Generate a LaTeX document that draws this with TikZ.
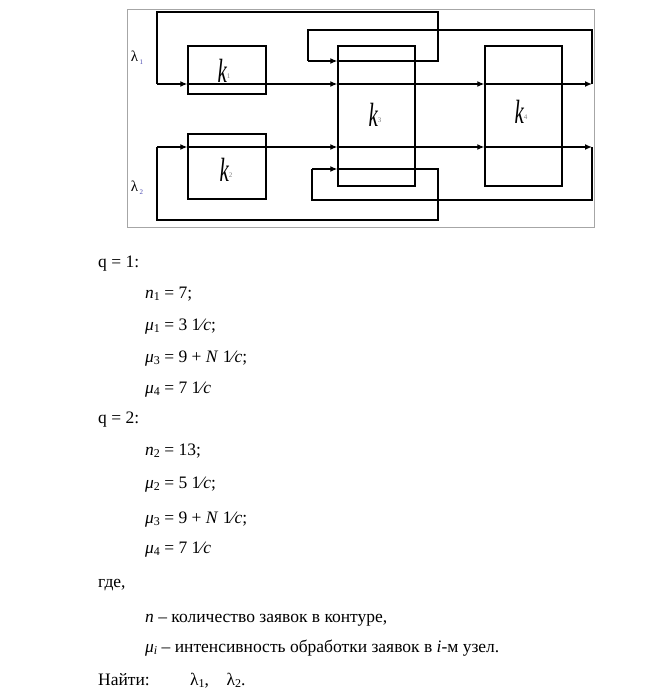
\documentclass[tikz,border=0pt]{standalone}
\usepackage{fontspec}
\setmainfont{Liberation Serif}
\newfontfamily\tnr{Liberation Serif}
\usetikzlibrary{arrows.meta}
\newcommand\sbx[1]{\raisebox{-0.35ex}{\fontsize{12}{12}\selectfont #1}}
\newcommand\klab[1]{\scalebox{1}[1.6]{\fontsize{21}{21}\selectfont\tnr\itshape k}\raisebox{1ex}{\fontsize{7}{7}\selectfont\color{gray}#1}}
\newcommand\llab[1]{{\fontsize{15}{15}\selectfont\tnr λ}\,\raisebox{-0.6ex}{\fontsize{7}{7}\selectfont\color{blue!40!gray}#1}}
\begin{document}
\begin{tikzpicture}[x=1pt,y=-1pt,
  box/.style={draw=black,line width=1.4pt,rectangle,inner sep=0pt},
  ln/.style={draw=black,line width=1.3pt},
  arr/.style={ln,-{Latex[length=7pt,width=6pt]}},
  frm/.style={draw=black!35,line width=1pt},
  txt/.style={anchor=base west,inner sep=0pt,font=\tnr\fontsize{17.5}{21}\selectfont}]
\useasboundingbox (0,0) rectangle (666,694);
\fill[white] (0,0) rectangle (666,694);
% frame
\draw[frm] (127,9) rectangle (594,227);
% boxes
\node[box,minimum width=78pt,minimum height=48pt] (k1) at (227,70) {};
\node[box,minimum width=78pt,minimum height=65pt] (k2) at (227,166.5) {};
\node[box,minimum width=77pt,minimum height=140pt] (k3) at (376.5,116) {};
\node[box,minimum width=77pt,minimum height=140pt] (k4) at (523.5,116) {};
\node[inner sep=0pt] (lk1) at (224,71) {\klab{1}};
\node[inner sep=0pt] (lk2) at (226,170) {\klab{2}};
\node[inner sep=0pt] (lk3) at (375,115) {\klab{3}};
\node[inner sep=0pt] (lk4) at (521,112) {\klab{4}};
\node[inner sep=0pt] (l1) at (137,58) {\llab{1}};
\node[inner sep=0pt] (l2) at (137,188) {\llab{2}};
% loop 1 coordinates
\coordinate (a1) at (157,84);
\coordinate (a2) at (157,12);
\coordinate (a3) at (438,12);
\coordinate (a4) at (438,61);
\coordinate (a5) at (592,84);
\coordinate (a6) at (592,30);
\coordinate (a7) at (308,30);
\coordinate (a8) at (308,61);
% loop 1
\draw[arr] (a1) -- (k1.west |- a1);
\draw[arr] (k1.west |- a1) -- (k3.west |- a1);
\draw[arr] (k3.west |- a1) -- (k4.west |- a1);
\draw[arr] (k4.west |- a1) -- (a5);
\draw[ln] (a5) -- (a6) -- (a7) -- (a8);
\draw[arr] (a8) -- (k3.west |- a8);
\draw[ln] (k3.west |- a8) -- (a4) -- (a3) -- (a2) -- (a1);
% loop 2 coordinates
\coordinate (b1) at (157,147);
\coordinate (b2) at (157,220);
\coordinate (b3) at (438,220);
\coordinate (b4) at (438,169);
\coordinate (b5) at (592,147);
\coordinate (b6) at (592,200);
\coordinate (b7) at (312,200);
\coordinate (b8) at (312,169);
% loop 2
\draw[arr] (b1) -- (k2.west |- b1);
\draw[arr] (k2.west |- b1) -- (k3.west |- b1);
\draw[arr] (k3.west |- b1) -- (k4.west |- b1);
\draw[arr] (k4.west |- b1) -- (b5);
\draw[ln] (b5) -- (b6) -- (b7) -- (b8);
\draw[arr] (b8) -- (k3.west |- b8);
\draw[ln] (k3.west |- b8) -- (b4) -- (b3) -- (b2) -- (b1);
% text
\node[txt] (t1) at (98,267) {q = 1:};
\node[txt] (t2) at (145,298) {\textit{n}\sbx{1} = 7;};
\node[txt] (t3) at (145,330) {\textit{μ}\sbx{1} = 3 1⁄\textit{c};};
\node[txt] (t4) at (145,362) {\textit{μ}\sbx{3} = 9 + \textit{N} 1⁄\textit{c};};
\node[txt] (t5) at (145,393) {\textit{μ}\sbx{4} = 7 1⁄\textit{c}};
\node[txt] (t6) at (98,423) {q = 2:};
\node[txt] (t7) at (145,455) {\textit{n}\sbx{2} = 13;};
\node[txt] (t8) at (145,488) {\textit{μ}\sbx{2} = 5 1⁄\textit{c};};
\node[txt] (t9) at (145,523) {\textit{μ}\sbx{3} = 9 + \textit{N} 1⁄\textit{c};};
\node[txt] (t10) at (145,553) {\textit{μ}\sbx{4} = 7 1⁄\textit{c}};
\node[txt] (t11) at (98,587) {где,};
\node[txt] (t12) at (145,622) {\textit{n} – количество заявок в контуре,};
\node[txt] (t13) at (145,652) {\textit{μ}\sbx{\textit{i}} – интенсивность обработки заявок в \textit{i}-м узел.};
\node[txt] (t14) at (98,685) {Найти:};
\node[txt] (t15) at (190,685) {λ\sbx{1},\quad λ\sbx{2}.};
\end{tikzpicture}
\end{document}
